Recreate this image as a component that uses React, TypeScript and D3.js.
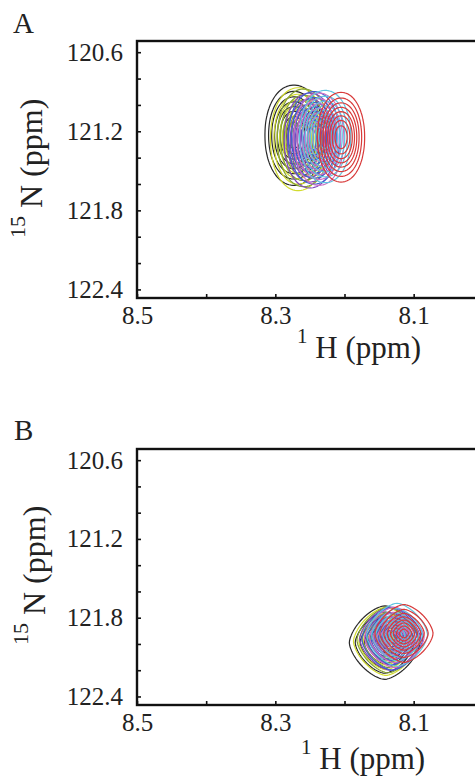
import React, { useEffect, useRef } from "react";
import * as d3 from "d3";

const W = 475;
const H = 777;

// axis data
const xDomain = [8.5, 7.9];
const yDomain = [120.515, 122.465];
const xMajorTicks = [8.5, 8.3, 8.1];
const xMinorTicks = [8.5, 8.4, 8.3, 8.2, 8.1, 8.0, 7.9];
const yMajorTicks = [120.6, 121.2, 121.8, 122.4];
const yMinorTicks = [120.6, 120.8, 121.0, 121.2, 121.4, 121.6, 121.8, 122.0, 122.2, 122.4];
const panelLabels = ["A", "B"];

// spectra (titration points) colours, drawn in this order
const spectrumColors = ["#2a2a2a", "#d2db2e", "#86a334", "#7f45c0", "#3d5ed2", "#cf6ec3", "#5fc4e0", "#d83a3a"];

// panel A peak positions (1H ppm, 15N ppm) and outer-contour half-widths (ppm)
const peakA_H = [8.273, 8.267, 8.259, 8.250, 8.244, 8.237, 8.228, 8.205];
const peakA_N = [121.23, 121.26, 121.25, 121.27, 121.25, 121.26, 121.24, 121.245];
const peakA_wH = [0.042, 0.040, 0.038, 0.037, 0.037, 0.036, 0.037, 0.034];
const peakA_wN = [0.38, 0.39, 0.37, 0.36, 0.35, 0.35, 0.35, 0.34];

// panel B
const peakB_H = [8.142, 8.140, 8.137, 8.134, 8.131, 8.128, 8.124, 8.114];
const peakB_N = [121.99, 121.98, 121.97, 121.96, 121.96, 121.95, 121.93, 121.92];
const peakB_wH = [0.051, 0.047, 0.045, 0.044, 0.044, 0.043, 0.044, 0.042];
const peakB_wN = [0.28, 0.26, 0.25, 0.24, 0.24, 0.23, 0.24, 0.22];

const contourLevels = [0.06, 0.12, 0.2, 0.3, 0.42, 0.55, 0.7, 0.85];

const FONT = "'Liberation Serif', 'Times New Roman', Times, serif";

const panelLayouts = [
  {
    top: 41, bottom: 298, shapeP: 2.1,
    peaksH: peakA_H, peaksN: peakA_N, wH: peakA_wH, wN: peakA_wN,
    labelXY: [13, 33], xTitleXY: [297, 358], yTitleXY: [42, 238],
  },
  {
    top: 449, bottom: 705, shapeP: 1.55,
    peaksH: peakB_H, peaksN: peakB_N, wH: peakB_wH, wN: peakB_wN,
    labelXY: [14, 440], xTitleXY: [301, 769], yTitleXY: [45, 645],
  },
];

const LEFT = 137;
const RIGHT = 552;

export default function App() {
  const ref = useRef<SVGSVGElement>(null);

  useEffect(() => {
    const svg = d3.select(ref.current);
    svg.selectAll("*").remove();
    svg.append("rect").attr("width", W).attr("height", H).attr("fill", "#fff");

    panelLayouts.forEach((pl, pi) => {
      const x = d3.scaleLinear().domain(xDomain).range([LEFT, RIGHT]);
      const y = d3.scaleLinear().domain(yDomain).range([pl.top, pl.bottom]);
      const g = svg.append("g");

      // contours
      const step = 2;
      const gx0 = LEFT, gx1 = W, gy0 = pl.top, gy1 = pl.bottom;
      const nx = Math.ceil((gx1 - gx0) / step) + 1;
      const ny = Math.ceil((gy1 - gy0) / step) + 1;
      const kk = Math.log(1 / contourLevels[0]);
      const path = d3.geoPath(d3.geoIdentity().scale(step).translate([gx0 - step / 2, gy0 - step / 2]) as any);
      const cg = g.append("g");
      pl.peaksH.forEach((ch, si) => {
        const cn = pl.peaksN[si];
        const wx = pl.wH[si], wy = pl.wN[si];
        const vals: number[] = new Array(nx * ny);
        for (let j = 0; j < ny; j++) {
          const n = y.invert(gy0 + j * step);
          for (let i = 0; i < nx; i++) {
            const h = x.invert(gx0 + i * step);
            const u = Math.abs((h - ch) / wx);
            const v = Math.abs((n - cn) / wy);
            vals[j * nx + i] = Math.exp(-kk * (Math.pow(u, pl.shapeP) + Math.pow(v, pl.shapeP)));
          }
        }
        const cs = d3.contours().size([nx, ny]).thresholds(contourLevels)(vals);
        cg.selectAll(null)
          .data(cs)
          .enter()
          .append("path")
          .attr("d", (d: any) => path(d))
          .attr("fill", "none")
          .attr("stroke", spectrumColors[si])
          .attr("stroke-width", 1.2)
          .attr("stroke-linejoin", "round");
      });

      // left axis
      const ya = d3.axisLeft(y)
        .tickValues(yMinorTicks)
        .tickSize(-4)
        .tickPadding(14)
        .tickFormat((d: any) => (yMajorTicks.some((m) => Math.abs(m - d) < 1e-6) ? d3.format(".1f")(d) : ""));
      const yg = g.append("g").attr("transform", `translate(${LEFT},0)`).call(ya as any);
      yg.attr("font-family", FONT);
      yg.select(".domain").remove();
      yg.selectAll(".tick line").attr("stroke", "#111").attr("stroke-width", 1.6);
      yg.selectAll("text").style("font-family", FONT).attr("font-size", 25).attr("fill", "#222");

      // bottom axis
      const xa = d3.axisBottom(x)
        .tickValues(xMinorTicks)
        .tickSize(-4)
        .tickPadding(8)
        .tickFormat((d: any) => (xMajorTicks.some((m) => Math.abs(m - d) < 1e-6) ? d3.format(".1f")(d) : ""));
      const xg = g.append("g").attr("transform", `translate(0,${pl.bottom})`).call(xa as any);
      xg.attr("font-family", FONT);
      xg.select(".domain").remove();
      xg.selectAll(".tick line").attr("stroke", "#111").attr("stroke-width", 1.6);
      xg.selectAll("text").style("font-family", FONT).attr("font-size", 25).attr("fill", "#222");

      // frame
      g.append("rect")
        .attr("x", LEFT)
        .attr("y", pl.top)
        .attr("width", RIGHT - LEFT)
        .attr("height", pl.bottom - pl.top)
        .attr("fill", "none")
        .attr("stroke", "#111")
        .attr("stroke-width", 2.4);

      // panel letter
      g.append("text")
        .attr("x", pl.labelXY[0])
        .attr("y", pl.labelXY[1])
        .style("font-family", FONT)
        .attr("font-size", 29)
        .attr("fill", "#222")
        .text(panelLabels[pi]);

      // x title
      const xt = g.append("text")
        .attr("x", pl.xTitleXY[0])
        .attr("y", pl.xTitleXY[1])
        .style("font-family", FONT)
        .attr("fill", "#222");
      xt.append("tspan").attr("font-size", 21).attr("dy", -15).text("1");
      xt.append("tspan").attr("font-size", 31).attr("dy", 15).text(" H (ppm)");

      // y title
      const yt = g.append("text")
        .attr("transform", `translate(${pl.yTitleXY[0]},${pl.yTitleXY[1]}) rotate(-90)`)
        .attr("text-anchor", "start")
        .style("font-family", FONT)
        .attr("fill", "#222");
      yt.append("tspan").attr("font-size", 22).attr("dy", -17).text("15");
      yt.append("tspan").attr("font-size", 32).attr("dy", 17).text(" N (ppm)");
    });
  }, []);

  return (
    <svg
      ref={ref}
      width={W}
      height={H}
      style={{ position: "absolute", left: 0, top: 0, display: "block", fontFamily: FONT }}
    />
  );
}
